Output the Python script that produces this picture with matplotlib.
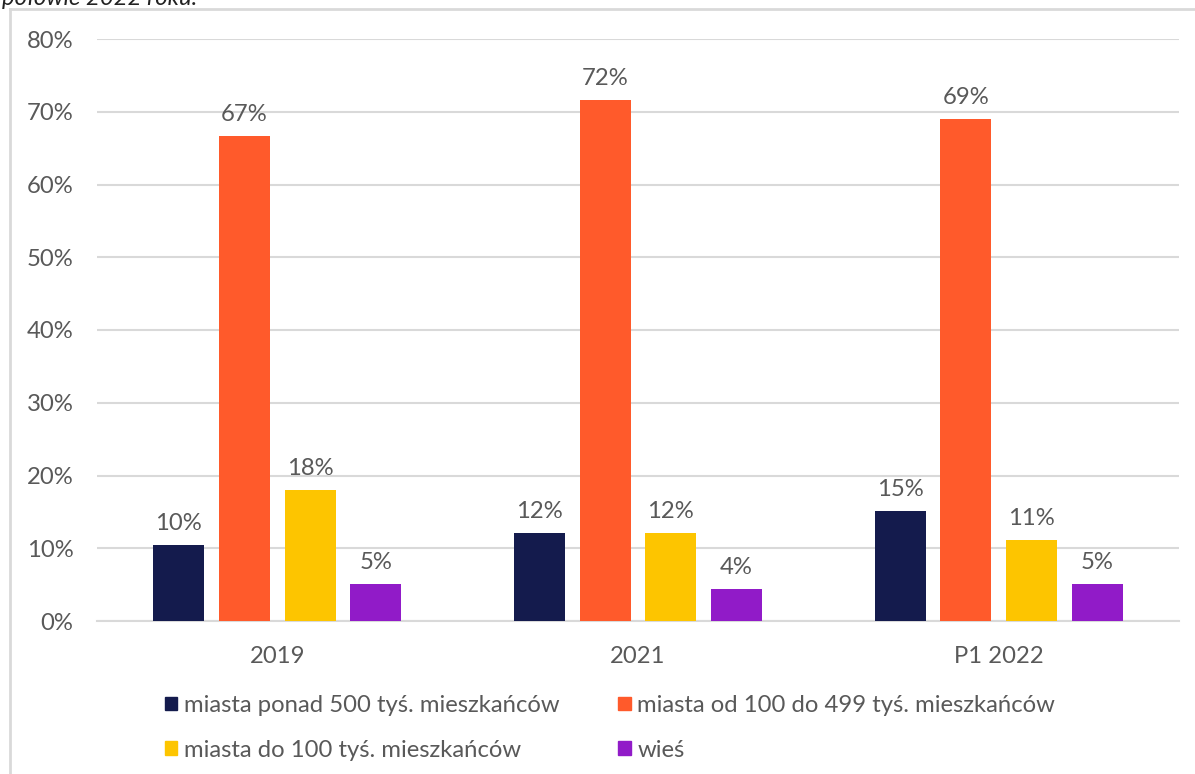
import matplotlib.pyplot as plt
import numpy as np
from matplotlib.patches import Patch
from matplotlib.lines import Line2D
from matplotlib.ticker import FuncFormatter

plt.rcParams['font.family'] = ['Lato', 'DejaVu Sans']

years = ['2019', '2021', 'P1 2022']
series = ['miasta ponad 500 tyś. mieszkańców',
          'miasta od 100 do 499 tyś. mieszkańców',
          'miasta do 100 tyś. mieszkańców',
          'wieś']
ponad_500 = [10.4, 12.1, 15.1]
od_100_do_499 = [66.7, 71.6, 69.0]
do_100 = [18.0, 12.1, 11.1]
wies = [5.1, 4.4, 5.1]
colors = ['#141b4d', '#ff5a2b', '#fdc500', '#911bc8']

txt = '#595959'
grid = '#d9d9d9'
fs = 17.2

fig = plt.figure(figsize=(11.95, 7.74), dpi=100)
ax = fig.add_axes([97 / 1195, 1 - 621 / 774, (1179 - 97) / 1195, (621 - 39) / 774])

x = np.arange(len(years))
width = 0.141
step = 0.182
handles = []
for i, (vals, name, c) in enumerate(zip([ponad_500, od_100_do_499, do_100, wies], series, colors)):
    bars = ax.bar(x + (i - 1.5) * step, vals, width, color=c, zorder=3)
    ax.bar_label(bars, labels=['%.0f%%' % v for v in vals], padding=8, fontsize=fs, color=txt)
    handles.append(Patch(color=c, label=name))

ax.set_xlim(-0.5, 2.5)
ax.set_ylim(0, 80)
ax.set_yticks(range(0, 81, 10))
ax.yaxis.set_major_formatter(FuncFormatter(lambda v, p: '%d%%' % v))
ax.set_xticks(x)
ax.set_xticklabels(years)
ax.tick_params(axis='both', length=0, labelsize=fs, colors=txt)
ax.tick_params(axis='y', pad=17)
ax.tick_params(axis='x', pad=18)
ax.grid(axis='y', color=grid, linewidth=1.5, zorder=0)
for s in ['top', 'right', 'left']:
    ax.spines[s].set_visible(False)
ax.spines['bottom'].set_color(grid)
ax.spines['bottom'].set_linewidth(1.5)

# legend goes row by row in the reference
order = [0, 2, 1, 3]
fig.legend([handles[i] for i in order], [series[i] for i in order],
           ncol=2, loc='upper left', bbox_to_anchor=(165 / 1195, 1 - 695 / 774),
           frameon=False, fontsize=fs, labelcolor=txt,
           handlelength=0.52, handleheight=0.52, handletextpad=0.28,
           columnspacing=2.45, labelspacing=1.0, borderaxespad=0, borderpad=0)

# chart frame (cropped) and cut title
fig.add_artist(Line2D([10 / 1195, 10 / 1195], [0, 1 - 9 / 774], color=grid, lw=2))
fig.add_artist(Line2D([10 / 1195, 1], [1 - 9 / 774, 1 - 9 / 774], color=grid, lw=2))
fig.text(0.002, 1 - 5 / 774, 'połowie 2022 roku.', fontsize=fs, style='italic',
         color='#222222', va='baseline')

fig.savefig('out.png', dpi=100)
